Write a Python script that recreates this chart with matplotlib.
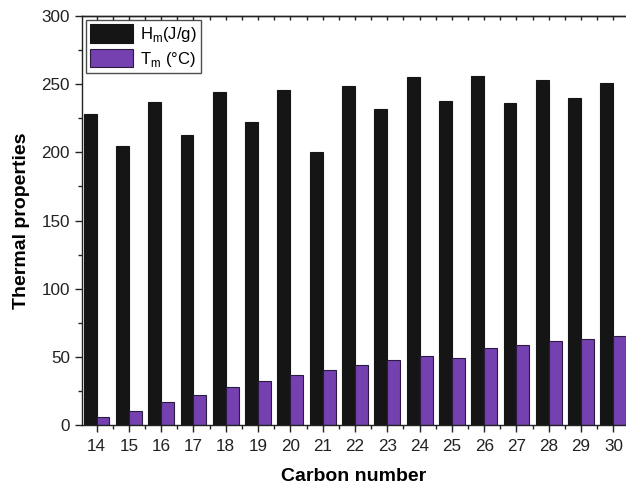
import numpy as np
import matplotlib
matplotlib.use('Agg')
import matplotlib.pyplot as plt
from matplotlib.ticker import MultipleLocator

plt.rcParams['font.family'] = ['Liberation Sans', 'DejaVu Sans']

# data
carbon = [14, 15, 16, 17, 18, 19, 20, 21, 22, 23, 24, 25, 26, 27, 28, 29, 30]
hm = [228, 205, 237, 213, 244, 222, 246, 200, 249, 232, 255, 238, 256, 236, 253, 240, 251]
tm = [5.6, 10, 16.6, 21.8, 27.9, 32, 36.4, 40.1, 43.8, 47.5, 50.4, 49.4, 56.3, 58.7, 61.4, 63.3, 65]

fig = plt.figure(figsize=(6.26, 4.88), dpi=100)
ax = fig.add_axes([0.1305, 0.129, 0.8695, 0.838])

x = np.array(carbon)
w = 0.4
ax.bar(x - w / 2, hm, w, color='#151515', edgecolor='#151515', linewidth=0.8, label='H$_\\mathregular{m}$(J/g)')
ax.bar(x + w / 2, tm, w, color='#7541b0', edgecolor='#2a1a40', linewidth=0.8, label='T$_\\mathregular{m}$ (°C)')

ax.set_xlim(13.54, 30.39)
ax.set_ylim(0, 300)
ax.set_xticks(carbon)
ax.xaxis.set_minor_locator(MultipleLocator(0.5))
ax.yaxis.set_major_locator(MultipleLocator(50))
ax.yaxis.set_minor_locator(MultipleLocator(25))

ax.spines['right'].set_visible(False)
for s in ['left', 'bottom', 'top']:
    ax.spines[s].set_linewidth(1.0)
    ax.spines[s].set_color('#222222')

ax.tick_params(axis='both', which='major', direction='out', length=5, width=1, labelsize=12.3, colors='#222222')
ax.tick_params(axis='both', which='minor', direction='out', length=3, width=1, colors='#222222')
ax.tick_params(axis='x', which='major', pad=5)

# top axis: small inward ticks, no labels
top = ax.secondary_xaxis('top')
top.set_xticks(np.arange(14, 31, 0.5))
top.tick_params(direction='in', length=3, width=1, labeltop=False, colors='#222222')
top.spines['top'].set_linewidth(1.0)
top.spines['top'].set_color('#222222')

ax.set_xlabel('Carbon number', fontsize=14, fontweight='bold', labelpad=10)
ax.set_ylabel('Thermal properties', fontsize=14, fontweight='bold', labelpad=8)

leg = ax.legend(loc='upper left', fontsize=12, frameon=True, fancybox=False,
                edgecolor='#222222', handlelength=2.6, handleheight=1.3,
                borderpad=0.25, labelspacing=0.3, handletextpad=0.4,
                bbox_to_anchor=(0.0, 1.0), borderaxespad=0.25)
leg.get_frame().set_linewidth(1.0)

fig.savefig('out.png', dpi=100)
